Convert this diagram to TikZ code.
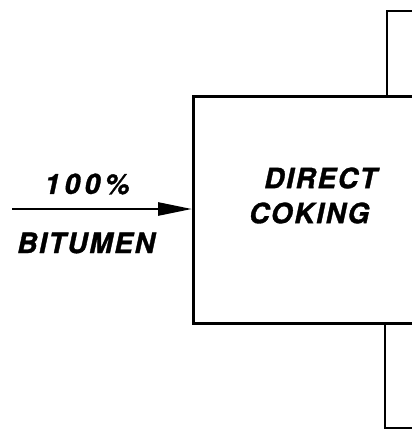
\documentclass[tikz,border=0pt]{standalone}
\usepackage{fontspec}
\newfontfamily\stencil{TeX Gyre Heros}[LetterSpace=6, FakeBold=1.2]
\newfontfamily\stencilwide{TeX Gyre Heros}[LetterSpace=16, FakeBold=1.2]
\usetikzlibrary{positioning, arrows.meta}

\begin{document}
\begin{tikzpicture}[
  x=1pt, y=-1pt,
  lbl/.style={font=\stencil\bfseries\itshape\fontsize{28}{30}\selectfont, inner sep=0pt},
  line/.style={line width=2.7pt},
  >={Triangle[length=34pt, width=13pt]}
]
\useasboundingbox (0,0) rectangle (412,432);
\clip (0,0) rectangle (412,432);
% coker box, runs off the right edge
\node[draw, line, minimum width=260pt, minimum height=227pt, anchor=north west, inner sep=0pt] (coker) at (192,95) {};
\node[lbl, anchor=west] (direct) at (264,178) {DIRECT};
\node[lbl, anchor=west] (coking) at (249,213) {COKING};
% feed
\coordinate (feed) at (12,209);
\draw[line, ->] (feed) -- (feed -| coker.west);
\node[lbl, font=\stencilwide\bfseries\itshape\fontsize{28}{30}\selectfont] (pct) at (87,184) {100\%};
\node[lbl] (bitumen) at (86,243) {BITUMEN};
% outlets
\coordinate (rise) at (387,11);
\coordinate (topout) at (420,11);
\draw[line] (rise |- coker.north) |- (topout);
\coordinate (drop) at (385,428);
\coordinate (botout) at (420,428);
\draw[line] (drop |- coker.south) |- (botout);
\end{tikzpicture}
\end{document}
